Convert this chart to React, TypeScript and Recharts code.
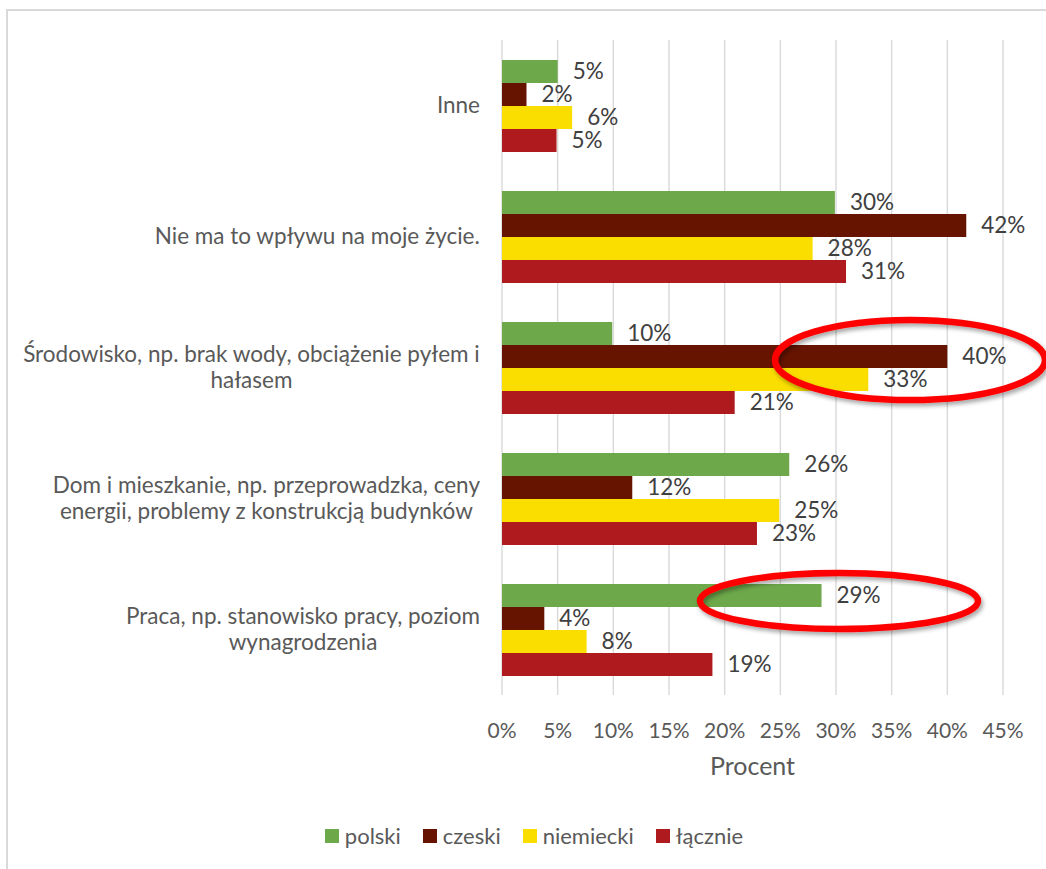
import React from 'react';
import { BarChart, Bar, XAxis, YAxis, CartesianGrid, LabelList } from 'recharts';

const categories = [
  'Inne',
  'Nie ma to wpływu na moje życie.',
  'Środowisko, np. brak wody, obciążenie pyłem i\nhałasem',
  'Dom i mieszkanie, np. przeprowadzka, ceny\nenergii, problemy z konstrukcją budynków',
  'Praca, np. stanowisko pracy, poziom\nwynagrodzenia',
];

const polski = [5.0, 29.9, 9.9, 25.8, 28.7];
const czeski = [2.2, 41.7, 40.0, 11.7, 3.8];
const niemiecki = [6.3, 27.9, 32.9, 24.9, 7.6];
const lacznie = [4.9, 30.9, 20.9, 22.9, 18.9];

const xTicks = [0, 5, 10, 15, 20, 25, 30, 35, 40, 45];

const series = [
  { key: 'polski', name: 'polski', color: '#6DA84A' },
  { key: 'czeski', name: 'czeski', color: '#661300' },
  { key: 'niemiecki', name: 'niemiecki', color: '#FADE00' },
  { key: 'lacznie', name: 'łącznie', color: '#AF1A1F' },
];

const FONT = 'Lato, "Open Sans", sans-serif';
const FONT_SIZE = 22.5;

const data = categories.map((category, i) => ({
  category,
  polski: polski[i],
  czeski: czeski[i],
  niemiecki: niemiecki[i],
  lacznie: lacznie[i],
}));

// mierzy szerokość tekstu, żeby wyśrodkować linie w bloku
let ctx: CanvasRenderingContext2D | null = null;
function measure(text: string) {
  if (!ctx) {
    ctx = document.createElement('canvas').getContext('2d');
  }
  if (!ctx) return text.length * 10;
  ctx.font = `${FONT_SIZE}px ${FONT}`;
  return ctx.measureText(text).width;
}

function CategoryTick(props: any) {
  const { x, y, payload } = props;
  const lines = String(payload.value).split('\n');
  const block = Math.max(...lines.map(measure));
  const cx = x - block / 2;
  const lh = 26;
  const startY = y - ((lines.length - 1) * lh) / 2;
  return (
    <g>
      {lines.map((line, i) => (
        <text
          key={i}
          x={cx}
          y={startY + i * lh}
          dy="0.35em"
          textAnchor="middle"
          fill="#595959"
          fontSize={FONT_SIZE}
          fontFamily={FONT}
        >
          {line}
        </text>
      ))}
    </g>
  );
}

export default function App() {
  return (
    <div
      style={{
        position: 'absolute',
        left: 0,
        top: 0,
        width: 1046,
        height: 869,
        overflow: 'hidden',
        background: '#fff',
        fontFamily: FONT,
      }}
    >
      {/* ramka wykresu, wychodzi poza kadr */}
      <div
        style={{
          position: 'absolute',
          left: 6,
          top: 9,
          width: 1100,
          height: 900,
          border: '2px solid #d9d9d9',
        }}
      />

      <div style={{ position: 'absolute', left: 0, top: 0 }}>
        <BarChart
          width={1046}
          height={869}
          data={data}
          layout="vertical"
          margin={{ top: 40, right: 43, bottom: 144, left: 0 }}
          barCategoryGap={20}
          barGap={0}
        >
          <CartesianGrid horizontal={false} stroke="#d9d9d9" strokeWidth={1.4} />
          <XAxis
            type="number"
            domain={[0, 45]}
            ticks={xTicks}
            tickFormatter={(v) => `${v}%`}
            axisLine={false}
            tickLine={false}
            height={30}
            tickMargin={22}
            tick={{ fill: '#595959', fontSize: 21, fontFamily: FONT }}
            interval={0}
          />
          <YAxis
            type="category"
            dataKey="category"
            width={502}
            axisLine={false}
            tickLine={false}
            tickSize={0}
            tickMargin={22}
            tick={<CategoryTick />}
            interval={0}
          />
          {series.map((s) => (
            <Bar key={s.key} dataKey={s.key} name={s.name} fill={s.color} isAnimationActive={false}>
              <LabelList
                dataKey={s.key}
                position="right"
                offset={15}
                fill="#404040"
                fontSize={FONT_SIZE}
                fontFamily={FONT}
                formatter={(v: any) => `${Math.round(Number(v))}%`}
              />
            </Bar>
          ))}
        </BarChart>
      </div>

      {/* tytuł osi */}
      <div
        style={{
          position: 'absolute',
          left: 502,
          width: 501,
          top: 750,
          textAlign: 'center',
          color: '#595959',
          fontSize: 25,
        }}
      >
        Procent
      </div>

      {/* legenda */}
      <div
        style={{
          position: 'absolute',
          left: 0,
          width: 1068,
          top: 822,
          display: 'flex',
          justifyContent: 'center',
          gap: 22,
          color: '#595959',
          fontSize: 22,
        }}
      >
        {series.map((s) => (
          <div key={s.key} style={{ display: 'flex', alignItems: 'center', gap: 6 }}>
            <span style={{ width: 14, height: 14, background: s.color, display: 'inline-block' }} />
            <span>{s.name}</span>
          </div>
        ))}
      </div>

      {/* czerwone elipsy - adnotacje */}
      <svg width={1046} height={869} style={{ position: 'absolute', left: 0, top: 0, pointerEvents: 'none' }}>
        <defs>
          <filter id="shadow" x="-20%" y="-50%" width="140%" height="200%">
            <feDropShadow dx="2" dy="3" stdDeviation="2" floodColor="#000" floodOpacity="0.35" />
          </filter>
        </defs>
        <ellipse cx={910} cy={360} rx={135} ry={40} fill="none" stroke="#FF0000" strokeWidth={6.5} filter="url(#shadow)" />
        <ellipse cx={839} cy={601} rx={139} ry={28} fill="none" stroke="#FF0000" strokeWidth={6.5} filter="url(#shadow)" />
      </svg>
    </div>
  );
}
